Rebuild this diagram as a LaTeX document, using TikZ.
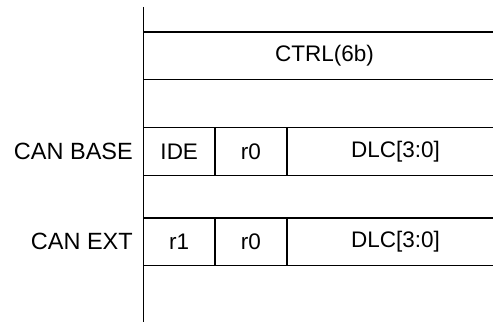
\documentclass[tikz,border=0pt]{standalone}
\usepackage{fontspec}
\setmainfont{Liberation Sans}
\usetikzlibrary{positioning}

\begin{document}
\begin{tikzpicture}[
  x=1pt, y=1pt,
  field/.style={draw, line width=1.6pt, outer sep=0pt, inner sep=0pt, minimum height=48pt, font=\fontsize{22.5}{26}\selectfont},
  fieldtext/.style={font=\fontsize{22.5}{26}\selectfont},
  rowlabel/.style={inner sep=0pt, anchor=east, font=\fontsize{23.5}{27}\selectfont}
]
\useasboundingbox (0,0) rectangle (493,322);
\coordinate (axtop) at (143.5,315);
\coordinate (axbot) at (143.5,0);
\node[field, anchor=north west, minimum width=370pt, minimum height=47.5pt] (ctrl) at (143.5,290) {};
\node[fieldtext] (ctrltext) at ([xshift=-4pt]ctrl.center) {CTRL(6b)};
% CAN base row
\node[field, anchor=north west, minimum width=71.5pt] (ide) at (143.5,194.5) {IDE};
\node[field, right=0pt of ide, minimum width=72pt] (baser0) {r0};
\node[field, right=0pt of baser0, minimum width=230pt] (basedlc) {};
\node[fieldtext] (basedlctext) at ([xshift=-6.5pt]basedlc.center) {DLC[3:0]};
% CAN ext row
\node[field, anchor=north west, minimum width=71.5pt, minimum height=47.5pt] (extr1) at (143.5,104) {r1};
\node[field, right=0pt of extr1, minimum width=72pt, minimum height=47.5pt] (extr0) {r0};
\node[field, right=0pt of extr0, minimum width=230pt, minimum height=47.5pt] (extdlc) {};
\node[fieldtext] (extdlctext) at ([xshift=-6.5pt]extdlc.center) {DLC[3:0]};
\node[rowlabel, left=10.5pt of ide] (base) {CAN BASE};
\node[rowlabel, left=10.5pt of extr1] (ext) {CAN EXT};
\draw[line width=1.6pt] (axtop) -- (axbot);
\end{tikzpicture}
\end{document}
